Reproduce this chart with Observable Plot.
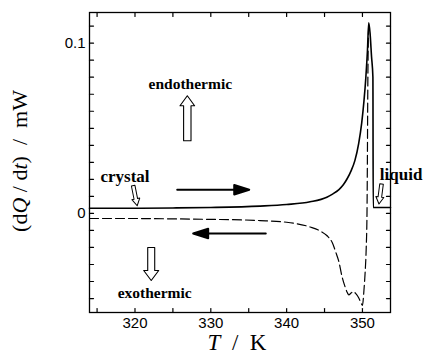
<!DOCTYPE html>
<html>
<head>
<meta charset="utf-8">
<script src="https://cdn.jsdelivr.net/npm/d3@7"></script>
<script src="https://cdn.jsdelivr.net/npm/@observablehq/plot@0.6"></script>
<style>
  body { margin: 0; background: white; }
</style>
</head>
<body>
<div id="chart"></div>
<script>
// DSC trace: heating run (solid) and cooling run (dashed), heat flow in mW vs temperature in K
const heatT = [314, 320, 325, 330, 336.5, 340, 343.1, 345.3, 346.0, 346.9, 347.5, 348.0, 348.5, 349.0, 349.5, 349.9, 350.2, 350.45, 350.66, 350.83, 351.0, 351.2, 351.38, 351.42, 353.7];
const heatQ = [0.0030, 0.0030, 0.0032, 0.0035, 0.0043, 0.0052, 0.0068, 0.0095, 0.0112, 0.0140, 0.0170, 0.0205, 0.0250, 0.0310, 0.0410, 0.0530, 0.0660, 0.0800, 0.0955, 0.1120, 0.1060, 0.0920, 0.0800, 0.0035, 0.0035];

const coolT = [314, 320, 325, 330, 336.5, 340, 343.1, 344.5, 345.3, 346.0, 346.5, 346.9, 347.3, 347.7, 348.0, 348.2, 348.5, 348.8, 349.1, 349.5, 349.85, 350.0, 350.2, 350.35, 350.5, 350.6, 350.65, 350.7, 350.75, 350.83];
const coolQ = [-0.0030, -0.0030, -0.0032, -0.0035, -0.0042, -0.0052, -0.0080, -0.0105, -0.0130, -0.0170, -0.0230, -0.0285, -0.0370, -0.0430, -0.0465, -0.0478, -0.0468, -0.0458, -0.0470, -0.0495, -0.0530, -0.0540, -0.0450, -0.0350, -0.0200, 0.0000, 0.0300, 0.0700, 0.0950, 0.1100];

const xTickLabels = [320, 330, 340, 350];
const xMinorTicks = [315, 320, 325, 330, 335, 340, 345, 350];
const yTickLabels = [0, 0.1];
const yMinorTicks = [-0.05, -0.04, -0.03, -0.02, -0.01, 0, 0.01, 0.02, 0.03, 0.04, 0.05, 0.06, 0.07, 0.08, 0.09, 0.1, 0.11];

const xDomain = [314, 353.7];
const yDomain = [-0.0582, 0.118];

const heating = heatT.map((t, i) => ({T: t, Q: heatQ[i]}));
const cooling = coolT.map((t, i) => ({T: t, Q: coolQ[i]}));

// small inward tick drawn as a plain segment
const tickShape = {draw(ctx, l) { ctx.moveTo(0, 0); ctx.lineTo(0, -l); }};
// outlined block arrow
const blockArrow = (sw, hw, hl) => ({draw(ctx, l) {
  ctx.moveTo(-sw, 0); ctx.lineTo(-sw, -(l - hl)); ctx.lineTo(-hw, -(l - hl));
  ctx.lineTo(0, -l); ctx.lineTo(hw, -(l - hl)); ctx.lineTo(sw, -(l - hl));
  ctx.lineTo(sw, 0); ctx.closePath();
}});
// line with a filled triangular head
const solidArrow = (hw, hl) => ({draw(ctx, l) {
  ctx.moveTo(0, 0); ctx.lineTo(0, -(l - hl));
  ctx.moveTo(-hw, -(l - hl)); ctx.lineTo(0, -l); ctx.lineTo(hw, -(l - hl)); ctx.closePath();
}});

const tickOpts = {length: 4, anchor: "start", shape: tickShape, stroke: "black", strokeWidth: 1.2};

const serifBold = {fontFamily: "Liberation Serif", fontWeight: "bold", fill: "black"};

const chart = Plot.plot({
  width: 424,
  height: 357,
  marginLeft: 89,
  marginRight: 34,
  marginTop: 12,
  marginBottom: 45,
  style: {background: "white", color: "black", fontFamily: "Liberation Sans", overflow: "visible"},
  x: {domain: xDomain, axis: null},
  y: {domain: yDomain, axis: null},
  marks: [
    // inward ticks on all four sides
    Plot.vector(xMinorTicks, {...tickOpts, x: d => d, y: () => yDomain[0], rotate: 0}),
    Plot.vector(xMinorTicks, {...tickOpts, x: d => d, y: () => yDomain[1], rotate: 180}),
    Plot.vector(yMinorTicks, {...tickOpts, x: () => xDomain[0], y: d => d, rotate: 90}),
    Plot.vector(yMinorTicks, {...tickOpts, x: () => xDomain[1], y: d => d, rotate: -90}),
    Plot.axisX(xTickLabels, {anchor: "bottom", tickSize: 0, tickPadding: 5, label: null, fontSize: 15, fontFamily: "Liberation Sans"}),
    Plot.axisY(yTickLabels, {anchor: "left", tickSize: 0, tickPadding: 4, label: null, tickFormat: d => String(d), fontSize: 15, fontFamily: "Liberation Sans"}),
    // curves
    Plot.line(heating, {x: "T", y: "Q", stroke: "black", strokeWidth: 1.6, curve: "monotone-x"}),
    Plot.line(cooling, {x: "T", y: "Q", stroke: "black", strokeWidth: 1.2, strokeDasharray: "9,4", curve: "monotone-x"}),
    Plot.frame({stroke: "black", strokeWidth: 1.3}),
    // annotations
    Plot.text(["endothermic"], {...serifBold, x: 327.3, y: 0.0761, fontSize: 15.5, textAnchor: "middle"}),
    Plot.vector([0], {x: 326.9, y: 0.0427, length: 45, rotate: 0, anchor: "start", shape: blockArrow(3.7, 7.3, 10), stroke: "black", strokeWidth: 1.1, fill: "white"}),
    Plot.text(["exothermic"], {...serifBold, x: 322.6, y: -0.0466, fontSize: 15.5, textAnchor: "middle"}),
    Plot.vector([0], {x: 322.14, y: -0.020, length: 33, rotate: 180, anchor: "start", shape: blockArrow(3.5, 7.5, 10), stroke: "black", strokeWidth: 1.1, fill: "white"}),
    Plot.text(["crystal"], {...serifBold, x: 315.45, y: 0.0218, fontSize: 17, textAnchor: "start"}),
    Plot.vector([0], {x: 319.76, y: 0.0163, length: 20.5, rotate: 168.7, anchor: "start", shape: blockArrow(1.8, 4, 7), stroke: "black", strokeWidth: 1, fill: "white"}),
    Plot.text(["liquid"], {...serifBold, x: 352.29, y: 0.0228, fontSize: 17, textAnchor: "start"}),
    Plot.vector([0], {x: 352.52, y: 0.0173, length: 20.2, rotate: 187.4, anchor: "start", shape: blockArrow(1.8, 4, 7), stroke: "black", strokeWidth: 1, fill: "white"}),
    Plot.vector([0], {x: 325.57, y: 0.0139, length: 72, rotate: 90, anchor: "start", shape: solidArrow(4.8, 15), stroke: "black", strokeWidth: 2, fill: "black"}),
    Plot.vector([0], {x: 337.25, y: -0.0118, length: 72.6, rotate: -90, anchor: "start", shape: solidArrow(4.8, 15), stroke: "black", strokeWidth: 2, fill: "black"})
  ]
});

document.getElementById("chart").appendChild(chart);

// axis titles with italic symbols
const svg = d3.select(chart);
const xt = svg.append("text")
  .attr("x", 237).attr("y", 350)
  .attr("text-anchor", "middle")
  .attr("font-family", "Liberation Serif").attr("font-size", 23)
  .style("white-space", "pre").attr("fill", "black");
xt.append("tspan").attr("font-style", "italic").text("T");
xt.append("tspan").text("  /  K");

const yt = svg.append("text")
  .attr("transform", "translate(27,161) rotate(-90)")
  .attr("text-anchor", "middle")
  .attr("font-family", "Liberation Serif").attr("font-size", 22)
  .style("white-space", "pre").attr("fill", "black");
yt.append("tspan").text("(d");
yt.append("tspan").attr("font-style", "italic").text("Q");
yt.append("tspan").text(" / d");
yt.append("tspan").attr("font-style", "italic").text("t");
yt.append("tspan").text(")  /  mW");
</script>
</body>
</html>
